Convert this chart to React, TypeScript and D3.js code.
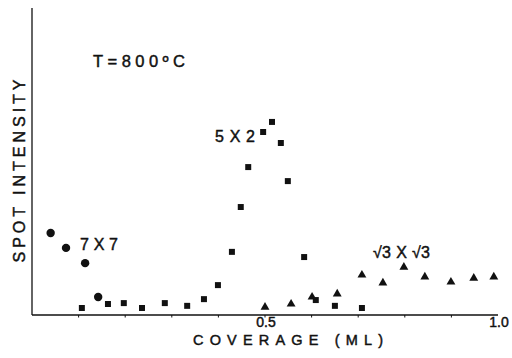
import React from 'react';
import * as d3 from 'd3';

// 7x7 spots (circles)
const cov7x7 = [0.04, 0.073, 0.114, 0.142];
const int7x7 = [26.9, 22.0, 17.0, 5.9];

// 5x2 spots (squares)
const cov5x2 = [0.107, 0.163, 0.197, 0.236, 0.285, 0.333, 0.369, 0.399, 0.429, 0.448, 0.464, 0.496, 0.515, 0.534, 0.549, 0.584, 0.609, 0.65, 0.708];
const int5x2 = [2.3, 3.6, 3.9, 2.3, 3.9, 3.0, 5.2, 9.8, 20.7, 35.4, 48.5, 60.0, 63.3, 56.4, 43.9, 19.0, 4.9, 3.0, 2.3];

// sqrt3 x sqrt3 spots (triangles)
const covR3 = [0.5, 0.556, 0.601, 0.655, 0.708, 0.753, 0.798, 0.843, 0.899, 0.948, 0.991];
const intR3 = [2.6, 3.6, 5.9, 6.9, 13.1, 10.5, 15.7, 12.5, 10.8, 12.1, 12.5];

const xTicks = [0.5, 1.0];
const xMinor = [0.1, 0.2, 0.3, 0.4, 0.5, 0.6, 0.7, 0.8, 0.9];

const W = 512;
const H = 358;
const font = '"Liberation Sans", Arial, sans-serif';
const ink = '#111';

// shared text style, slightly thickened like the printed figure
const txt = { fontFamily: font, fill: ink, stroke: ink, strokeWidth: 0.45 };

export default function App() {
  const x = d3.scaleLinear().domain([0, 1]).range([32, 498]);
  const y = d3.scaleLinear().domain([0, 100]).range([315, 10]);

  const square = d3.symbol(d3.symbolSquare, 36)()!;
  const tri = d3.symbol(d3.symbolTriangle, 34)()!;

  return (
    <svg width={W} height={H} style={{ position: 'absolute', left: 0, top: 0, background: '#fff' }}>
      {/* axes */}
      <line x1={x(0)} x2={x(0)} y1={8} y2={y(0)} stroke={ink} strokeWidth={1.3} />
      <line x1={x(0)} x2={x(1)} y1={y(0)} y2={y(0)} stroke={ink} strokeWidth={1.6} />
      {xMinor.map(t => (
        <line key={t} x1={x(t)} x2={x(t)} y1={y(0)} y2={y(0) + 2.5} stroke={ink} strokeWidth={1} />
      ))}
      {xTicks.map(t => (
        <text key={t} x={x(t) + 1} y={327} textAnchor="middle" fontSize={14} {...txt}>
          {t.toFixed(1)}
        </text>
      ))}

      <text x={193} y={345} textLength={190} lengthAdjust="spacing" fontSize={14.5} {...txt}>
        COVERAGE (ML)
      </text>
      <text transform="translate(25,171) rotate(-90)" textAnchor="middle" textLength={183} lengthAdjust="spacing"
        fontSize={16} {...txt}>
        SPOT INTENSITY
      </text>

      <text x={93} y={67} textLength={92} lengthAdjust="spacing" fontSize={16.5} {...txt}>
        T=800ºC
      </text>
      <text x={215} y={142} textLength={40} lengthAdjust="spacing" fontSize={16} {...txt}>
        5 X 2
      </text>
      <text x={80} y={250} textLength={38} lengthAdjust="spacing" fontSize={16} {...txt}>
        7 X 7
      </text>
      <text x={373} y={258} textLength={57} lengthAdjust="spacing" fontSize={16} {...txt}>
        √3 X √3
      </text>

      {/* data */}
      {cov7x7.map((c, i) => (
        <circle key={'c' + i} cx={x(c)} cy={y(int7x7[i])} r={4.2} fill={ink} />
      ))}
      {cov5x2.map((c, i) => (
        <path key={'s' + i} d={square} transform={`translate(${x(c)},${y(int5x2[i])})`} fill={ink} />
      ))}
      {covR3.map((c, i) => (
        <path key={'t' + i} d={tri} transform={`translate(${x(c)},${y(intR3[i])})`} fill={ink} />
      ))}
    </svg>
  );
}
